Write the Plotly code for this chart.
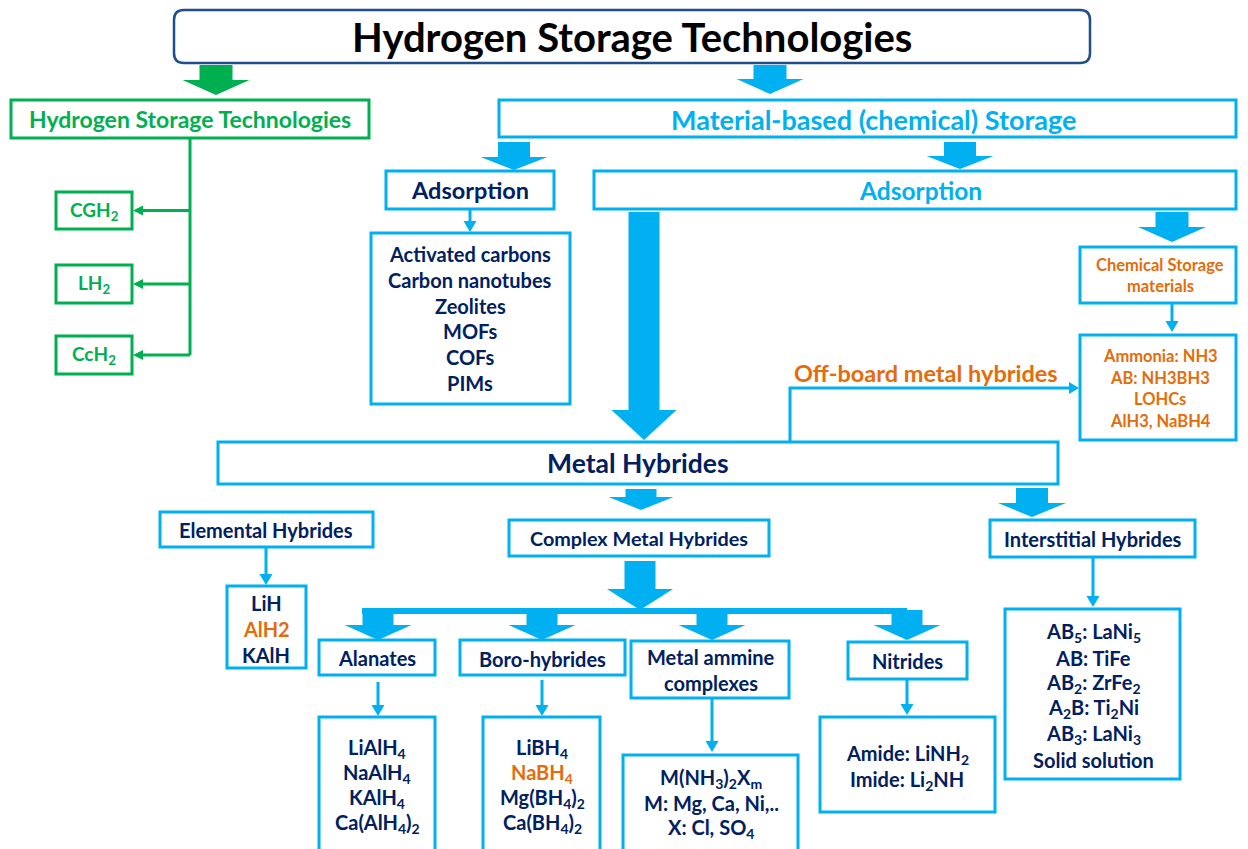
import plotly.graph_objects as go

# ---- diagram content ----
main_title = "Hydrogen Storage Technologies"
physical_title = "Hydrogen Storage Technologies"
physical_forms = ["CGH<sub>2</sub>", "LH<sub>2</sub>", "CcH<sub>2</sub>"]
material_title = "Material-based (chemical) Storage"
adsorption_label = "Adsorption"
sorbents = ["Activated carbons", "Carbon nanotubes", "Zeolites", "MOFs", "COFs", "PIMs"]
chemical_title = ["Chemical Storage", "materials"]
chemical_items = ["Ammonia: NH3", "AB: NH3BH3", "LOHCs", "AlH3, NaBH4"]
offboard_label = "Off-board metal hybrides"
hydride_title = "Metal Hybrides"
hydride_classes = ["Elemental Hybrides", "Complex Metal Hybrides", "Interstitial Hybrides"]
elemental_items = ["LiH", "AlH2", "KAlH"]
complex_classes = ["Alanates", "Boro-hybrides", "Metal ammine", "complexes", "Nitrides"]
alanates = ["LiAlH<sub>4</sub>", "NaAlH<sub>4</sub>", "KAlH<sub>4</sub>", "Ca(AlH<sub>4</sub>)<sub>2</sub>"]
borohydrides = ["LiBH<sub>4</sub>", "NaBH<sub>4</sub>", "Mg(BH<sub>4</sub>)<sub>2</sub>", "Ca(BH<sub>4</sub>)<sub>2</sub>"]
ammines = ["M(NH<sub>3</sub>)<sub>2</sub>X<sub>m</sub>", "M: Mg, Ca, Ni,..", "X: Cl, SO<sub>4</sub>"]
nitrides = ["Amide: LiNH<sub>2</sub>", "Imide: Li<sub>2</sub>NH"]
interstitial_items = ["AB<sub>5</sub>: LaNi<sub>5</sub>", "AB: TiFe", "AB<sub>2</sub>: ZrFe<sub>2</sub>",
                      "A<sub>2</sub>B: Ti<sub>2</sub>Ni", "AB<sub>3</sub>: LaNi<sub>3</sub>", "Solid solution"]
highlighted = {"AlH2", "NaBH<sub>4</sub>"}

GREEN = "#00b050"
CYAN = "#00b0f0"
NAVY = "#002060"
ORANGE = "#e46c0a"
FONT = "Lato"
RIGHT = 1236  # right edge of the boxes that run to the page border

shapes = []
annotations = []


def rect(x0, y0, x1, y1, color, width=3):
    shapes.append(dict(type="rect", xref="x", yref="y", x0=x0, y0=y0, x1=x1, y1=y1,
                       line=dict(color=color, width=width), layer="above"))


def label(x, y, text, size, color):
    annotations.append(dict(x=x, y=y, xref="x", yref="y", text="<b>%s</b>" % text,
                            showarrow=False, xanchor="center", yanchor="middle",
                            font=dict(family=FONT, size=size, color=color)))


def stack(x, y0, step, lines, size, color):
    for i, t in enumerate(lines):
        label(x, y0 + i * step, t, size, ORANGE if t in highlighted else color)


def block_arrow(cx, y0, y1, shaft_w, head_w, head_h, color):
    yh = y1 - head_h
    pts = [(cx - shaft_w / 2, y0), (cx + shaft_w / 2, y0), (cx + shaft_w / 2, yh),
           (cx + head_w / 2, yh), (cx, y1), (cx - head_w / 2, yh), (cx - shaft_w / 2, yh)]
    path = "M " + " L ".join("%g,%g" % p for p in pts) + " Z"
    shapes.append(dict(type="path", xref="x", yref="y", path=path,
                       fillcolor=color, line=dict(color=color, width=0)))


def line_arrow(points, color, width=3, head_len=11, head_w=13):
    # polyline ending in a filled triangle head
    (xa, ya), (xb, yb) = points[-2], points[-1]
    dx, dy = xb - xa, yb - ya
    n = (dx * dx + dy * dy) ** 0.5
    ux, uy = dx / n, dy / n
    bx, by = xb - ux * head_len, yb - uy * head_len
    pts = points[:-1] + [(bx, by)]
    path = "M " + " L ".join("%g,%g" % p for p in pts)
    shapes.append(dict(type="path", xref="x", yref="y", path=path,
                       line=dict(color=color, width=width)))
    px, py = -uy * head_w / 2, ux * head_w / 2
    tri = "M %g,%g L %g,%g L %g,%g Z" % (xb, yb, bx + px, by + py, bx - px, by - py)
    shapes.append(dict(type="path", xref="x", yref="y", path=tri,
                       fillcolor=color, line=dict(color=color, width=0)))


# ---- title ----
x0, y0, x1, y1, r = 174, 10, 1090, 63, 10
shapes.append(dict(type="path", xref="x", yref="y", line=dict(color="#1f4e8c", width=2.5),
                   path=("M %g,%g L %g,%g Q %g,%g %g,%g L %g,%g Q %g,%g %g,%g L %g,%g "
                         "Q %g,%g %g,%g L %g,%g Q %g,%g %g,%g Z") % (
                       x0 + r, y0, x1 - r, y0, x1, y0, x1, y0 + r, x1, y1 - r, x1, y1, x1 - r, y1,
                       x0 + r, y1, x0, y1, x0, y1 - r, x0, y0 + r, x0, y0, x0 + r, y0)))
label(632, 37, main_title, 40, "black")

# ---- physical storage (green) ----
block_arrow(216, 65, 95, 33, 67, 15, GREEN)
rect(11, 100, 369, 138, GREEN)
label(190, 119, physical_title, 23, GREEN)
shapes.append(dict(type="line", xref="x", yref="y", x0=190, y0=138, x1=190, y1=355,
                   line=dict(color=GREEN, width=3)))
for (yt, yb), form in zip([(192, 229), (265, 303), (336, 374)], physical_forms):
    rect(56, yt, 132, yb, GREEN)
    label(94, (yt + yb) / 2, form, 19, GREEN)
    line_arrow([(190, (yt + yb) / 2), (133, (yt + yb) / 2)], GREEN, 3, 10, 10)

# ---- material based ----
block_arrow(770, 65, 94, 33, 67, 15, CYAN)
rect(499, 100, RIGHT, 137, CYAN)
label(873, 119, material_title, 27, CYAN)

block_arrow(514, 142, 170, 32, 67, 13, CYAN)
rect(386, 171, 554, 209, CYAN)
label(470, 190, adsorption_label, 23.5, NAVY)
line_arrow([(470, 209), (470, 232)], CYAN)
rect(371, 233, 570, 404, CYAN)
stack(470, 254, 25.8, sorbents, 20, NAVY)

block_arrow(960, 142, 169, 32, 67, 13, CYAN)
rect(594, 171, RIGHT, 209, CYAN)
label(920, 190, adsorption_label, 24.5, CYAN)

block_arrow(1172, 212, 242, 33, 68, 15, CYAN)
rect(1080, 247, RIGHT, 303, CYAN)
stack(1160, 265, 21, chemical_title, 16.5, ORANGE)
line_arrow([(1172, 303), (1172, 332)], CYAN)
rect(1080, 335, RIGHT, 440, CYAN)
stack(1160, 356, 21.5, chemical_items, 16.5, ORANGE)

block_arrow(644, 212, 440, 31, 65, 30, CYAN)

line_arrow([(790, 441), (790, 388), (1079, 388)], CYAN, 3, 10, 12)
label(926, 373, offboard_label, 23.5, ORANGE)

# ---- metal hydrides ----
rect(218, 442, 1058, 484, CYAN)
label(638, 463, hydride_title, 26.5, NAVY)

block_arrow(641, 489, 510, 31, 65, 13, CYAN)
block_arrow(1032, 488, 517, 32, 68, 14, CYAN)

rect(160, 512, 373, 547, CYAN)
label(266, 530, hydride_classes[0], 20, NAVY)
line_arrow([(266, 548), (266, 585)], CYAN)
rect(227, 586, 306, 668, CYAN)
stack(266, 603, 26, elemental_items, 20, NAVY)

rect(509, 520, 769, 556, CYAN)
label(639, 538, hydride_classes[1], 19.8, NAVY)

rect(990, 520, 1195, 557, CYAN)
label(1093, 539, hydride_classes[2], 20, NAVY)
line_arrow([(1093, 557), (1093, 607)], CYAN)
rect(1005, 609, 1180, 779, CYAN)
stack(1093, 632, 25.6, interstitial_items, 20, NAVY)

# complex hydride branches
block_arrow(640, 561, 610, 31, 66, 21, CYAN)
shapes.append(dict(type="rect", xref="x", yref="y", x0=362, y0=608, x1=907, y1=614,
                   fillcolor=CYAN, line=dict(width=0)))
for cx in [378, 542, 712, 907]:
    block_arrow(cx, 610, 640, 31, 67, 15, CYAN)

rect(319, 640, 435, 675, CYAN)
label(377, 658, complex_classes[0], 20, NAVY)
rect(460, 640, 625, 675, CYAN)
label(542, 659, complex_classes[1], 20, NAVY)
rect(631, 641, 789, 698, CYAN)
stack(711, 657, 26, complex_classes[2:4], 20, NAVY)
rect(848, 642, 967, 679, CYAN)
label(907, 661, complex_classes[4], 20, NAVY)

line_arrow([(378, 682), (378, 716)], CYAN)
rect(319, 717, 435, 860, CYAN)
stack(377, 748, 25.3, alanates, 20, NAVY)

line_arrow([(542, 680), (542, 716)], CYAN)
rect(483, 717, 600, 860, CYAN)
stack(542, 748, 25.3, borohydrides, 20, NAVY)

line_arrow([(712, 698), (712, 752)], CYAN)
rect(623, 755, 798, 860, CYAN)
stack(711, 778, 25.2, ammines, 20, NAVY)

line_arrow([(907, 680), (907, 715)], CYAN)
rect(820, 717, 995, 812, CYAN)
stack(907, 754, 26, nitrides, 20, NAVY)

# the page body keeps an 8px margin, so the axes start at page pixel 8
fig = go.Figure()
fig.update_layout(
    width=1240, height=841,
    margin=dict(l=0, r=0, t=0, b=0),
    paper_bgcolor="white", plot_bgcolor="white",
    xaxis=dict(range=[8, 1248], visible=False, fixedrange=True),
    yaxis=dict(range=[849, 8], visible=False, fixedrange=True),
    shapes=shapes, annotations=annotations, showlegend=False
)

fig.write_html("out.html")
